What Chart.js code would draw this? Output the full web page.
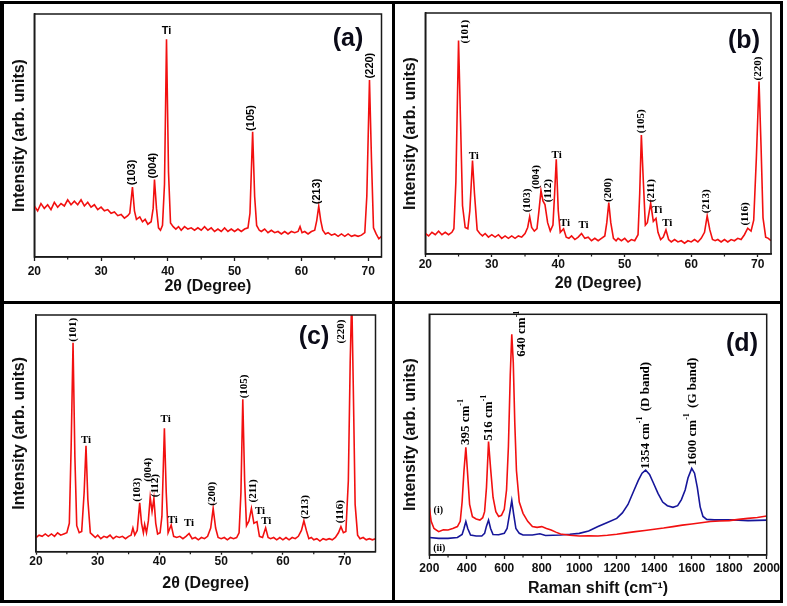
<!DOCTYPE html>
<html><head><meta charset="utf-8">
<script src="https://cdn.jsdelivr.net/npm/chart.js@4.4.1/dist/chart.umd.min.js"></script>
<style>
html,body{margin:0;padding:0;background:#fff;}
#wrap{position:relative;width:787px;height:606px;overflow:hidden;background:#fff;}
canvas{position:absolute;}
.bar{position:absolute;background:#000;z-index:5;}
.tag{position:absolute;font:bold 25px "Liberation Sans",Arial,sans-serif;color:#0b0b18;transform:translate(-50%,-50%);z-index:4;white-space:nowrap;}
</style></head><body>
<div id="wrap">
<canvas id="ca" width="389" height="297" style="left:3px;top:4px;width:389px;height:297px"></canvas>
<canvas id="cb" width="388" height="297" style="left:395px;top:4px;width:388px;height:297px"></canvas>
<canvas id="cc" width="389" height="296" style="left:3px;top:304px;width:389px;height:296px"></canvas>
<canvas id="cd" width="388" height="296" style="left:395px;top:304px;width:388px;height:296px"></canvas>
<div class="bar" style="left:0;top:1px;width:4px;height:602px"></div>
<div class="bar" style="left:0;top:1px;width:783px;height:3px"></div>
<div class="bar" style="left:780px;top:1px;width:3px;height:602px"></div>
<div class="bar" style="left:0;top:600px;width:783px;height:3px"></div>
<div class="bar" style="left:392px;top:1px;width:3px;height:602px"></div>
<div class="bar" style="left:0;top:301px;width:783px;height:3px"></div>
<div class="tag" style="left:348px;top:37px">(a)</div>
<div class="tag" style="left:744px;top:39px">(b)</div>
<div class="tag" style="left:314px;top:335px">(c)</div>
<div class="tag" style="left:742px;top:342px">(d)</div>
</div>
<script>
// ---------- DATA ----------
const xrdA = [[20,21],[20.5,19],[21,22],[21.5,20],[22,21.5],[22.5,19.5],[23,22.5],[23.5,20.5],[24,22],[24.5,21],[25,23.5],[25.5,21.5],[26,23],[26.5,21.5],[27,23.5],[27.5,21],[28,22.5],[28.5,20.5],[29,21.5],[29.5,19.5],[30,20.5],[30.5,19],[31,19.5],[31.5,18],[32,18.5],[32.5,17],[33,17.5],[33.5,16],[34,17],[34.3,18],[34.7,28.8],[35,19],[35.3,15.5],[35.8,16.5],[36.2,14.5],[36.6,15.5],[37,13.5],[37.5,14.5],[37.8,20],[38,31.9],[38.3,20],[38.6,12],[38.9,11],[39.2,13],[39.5,30],[39.8,89.6],[40.1,35],[40.4,14],[40.8,12.5],[41.2,11.5],[41.6,12.5],[42,11],[42.5,12.5],[43,11.5],[43.5,12],[44,11],[44.5,12],[45,11],[45.5,12.5],[46,11],[46.5,12],[47,10.5],[47.5,11.5],[48,10.5],[48.5,12],[49,10.5],[49.5,11.5],[50,10.5],[50.5,11.5],[51,10.5],[51.5,11.5],[52,12],[52.3,18],[52.7,51.5],[53,25],[53.3,13],[53.7,11],[54,10.5],[54.5,11.5],[55,10],[55.5,11],[56,10],[56.5,10.5],[57,9.5],[57.5,10.5],[58,9.5],[58.5,10.5],[59,10],[59.5,10.5],[59.8,12.5],[60.1,10],[60.5,10.5],[61,9.5],[61.5,10.5],[62,11],[62.3,15],[62.6,20.9],[62.9,15],[63.2,11],[63.6,9.5],[64,10],[64.5,9],[65,9.5],[65.5,8.5],[66,9.5],[66.5,8.5],[67,9.5],[67.5,8.5],[68,9],[68.5,8.5],[69,9],[69.5,10],[69.8,25],[70.2,72.8],[70.5,40],[70.8,12],[71.2,9.5],[71.6,7.5],[72,8.5]];

const xrdB = [[20,8.5],[20.5,7.5],[21,9],[21.5,8],[22,9.5],[22.5,8],[23,9],[23.5,8],[24,9],[24.3,10.5],[24.6,30],[25,88.6],[25.3,55],[25.6,20],[26,11],[26.4,10.5],[26.7,18],[27.1,38.8],[27.4,25],[27.8,10],[28.2,8.5],[28.6,7.5],[29,8.5],[29.5,7],[30,8],[30.5,7],[31,8],[31.5,6.5],[32,7.5],[32.5,6.5],[33,7.5],[33.5,6.5],[34,7.5],[34.5,7],[35,8.5],[35.4,11],[35.7,15.5],[36,11],[36.4,9.5],[36.8,10.5],[37.1,18],[37.4,26.3],[37.7,22],[38,20.5],[38.4,13],[38.8,9.5],[39.2,12],[39.45,25],[39.7,39.3],[40,18],[40.3,9],[40.8,10.5],[41.2,7],[41.6,6.5],[42,7.5],[42.5,6],[43,7],[43.5,8.5],[44,6.5],[44.5,7],[45,5.5],[45.5,6.5],[46,5.5],[46.5,6.5],[47,7.5],[47.3,13],[47.6,21.3],[47.9,13],[48.3,6.5],[48.7,5.5],[49,6.5],[49.5,5.5],[50,6.5],[50.5,5],[51,6],[51.5,5.5],[52,8],[52.25,25],[52.5,49.4],[52.8,30],[53.1,12],[53.4,13],[53.9,21],[54.3,13.5],[54.7,14.8],[55,9],[55.4,6],[55.8,7],[56.2,10],[56.6,6],[57,5],[57.5,6],[58,5],[58.5,5.5],[59,4.5],[59.5,5.5],[60,5],[60.5,6],[61,5],[61.5,6.5],[62,9],[62.4,15.8],[62.8,10],[63.2,6],[63.6,5.5],[64,6],[64.5,5],[65,6],[65.5,5],[66,6],[66.5,5.5],[67,6.5],[67.5,6],[68,8],[68.5,10.7],[69,9.5],[69.4,14],[69.8,40],[70.2,71.6],[70.5,45],[70.8,15],[71.2,7],[71.6,6.5],[72,5.5]];

const xrdC = [[20,6],[20.5,7],[21,6.5],[21.5,7.5],[22,6.5],[22.5,7.5],[23,6.5],[23.5,8],[24,7],[24.5,7.5],[25,8],[25.4,12],[25.7,45],[26,88.3],[26.3,40],[26.6,11],[27,8],[27.4,8.5],[27.8,25],[28.1,44.8],[28.4,22],[28.8,8],[29.2,7],[29.6,6],[30,7],[30.5,5.5],[31,6.5],[31.5,6],[32,7],[32.5,5.5],[33,6.5],[33.5,6],[34,6.5],[34.5,5.5],[35,6.5],[35.4,7],[35.7,10],[36,7],[36.4,9],[36.8,20.7],[37.1,12],[37.4,8],[37.6,11.5],[37.9,8],[38.2,13],[38.5,23],[38.8,17],[39.1,22.5],[39.4,12],[39.7,7.5],[40.1,8],[40.4,15],[40.8,52.1],[41.1,25],[41.4,8],[41.9,11.3],[42.3,6.5],[42.8,6],[43.3,6.5],[43.8,5.5],[44.3,6.5],[44.8,7.7],[45.3,5.5],[45.8,6],[46.3,5],[46.8,6],[47.3,5.5],[47.8,6.5],[48.3,10],[48.7,18.3],[49.1,10],[49.5,6],[50,5.5],[50.5,6],[51,5],[51.5,6],[52,5.5],[52.5,6],[52.9,8],[53.2,25],[53.5,64.4],[53.8,30],[54.1,11],[54.5,13],[54.9,18.3],[55.3,12],[55.8,12.7],[56.2,6.5],[56.7,6],[57.2,10.1],[57.6,6],[58,5.5],[58.5,6],[59,5],[59.5,6],[60,5],[60.5,6],[61,5],[61.5,6],[62,5.5],[62.5,6.5],[63,9],[63.4,13.1],[63.8,9],[64.2,5.5],[64.6,6],[65,5],[65.5,5.5],[66,4.5],[66.5,5.5],[67,5],[67.5,5.5],[68,5],[68.5,6],[69,8],[69.4,10.6],[69.8,8],[70.2,8.5],[70.6,30],[70.9,80],[71.15,108],[71.4,70],[71.7,20],[72.1,7],[72.5,5.5],[73,6],[73.5,5],[74,5.5],[74.5,5],[75,5.5]];

const ramanI = [[200,19.8],[210,14],[225,11],[250,9.7],[275,10.5],[300,10.4],[325,11],[350,11.8],[365,14],[375,22],[385,35],[395,44.7],[405,33],[415,21],[430,15.9],[450,15],[470,14.5],[485,15.5],[495,18],[505,28],[516,47.1],[527,36],[540,24],[555,18],[570,16],[585,16.5],[600,19],[612,27],[622,45],[632,75],[640,91.7],[648,80],[656,55],[665,35],[680,22],[700,17.3],[725,14],[750,11.8],[775,11.5],[800,11.8],[825,11],[850,10.4],[875,9.5],[900,8.7],[950,8.2],[1000,7.9],[1050,8],[1100,7.9],[1150,8.2],[1200,8.6],[1250,9.2],[1300,9.7],[1350,10.2],[1400,10.7],[1450,11.2],[1500,11.8],[1550,12.4],[1600,12.9],[1650,13.4],[1700,13.9],[1750,14.1],[1800,14.3],[1850,14.8],[1900,15.2],[1950,15.6],[2000,16.2]];

const ramanII = [[200,7.3],[250,6.9],[300,6.9],[350,7.3],[375,8.5],[385,11],[395,13.9],[405,11],[420,8.3],[450,7.9],[480,7.9],[495,9],[505,12],[516,14.5],[527,11],[540,8.5],[570,8.4],[600,9],[615,11],[628,17],[640,22.6],[650,17],[662,11],[680,9],[700,8.3],[750,8.3],[790,8.8],[820,8.1],[900,8.3],[950,8.6],[1000,9],[1050,10],[1100,11.8],[1150,13.5],[1200,15.2],[1230,17.5],[1260,21],[1290,26.5],[1315,31],[1335,34],[1354,35.3],[1375,33.5],[1395,30],[1420,25.6],[1445,22],[1470,20.5],[1500,19.8],[1525,20.5],[1545,23],[1565,27],[1580,32],[1600,36],[1615,34],[1630,28],[1645,20],[1660,16],[1680,14.8],[1720,14.6],[1800,14.6],[1850,14.5],[1900,14.3],[2000,14.5]];

// peak annotations: [x, y, text, kind]  kind: v = vertical, h = horizontal, c = centred
const labelsA = [[34.6,29.5,'(103)','v'],[37.7,32.3,'(004)','v'],[39.8,91.8,'Ti','h'],[52.5,51.9,'(105)','v'],[62.4,21.7,'(213)','v'],[70.25,73.5,'(220)','v']];
const labelsB = [[26.0,87.3,'(101)','v'],[27.3,39.3,'Ti','h'],[35.3,17.3,'(103)','v'],[36.7,27,'(004)','v'],[38.5,21.5,'(112)','v'],[39.75,39.8,'Ti','h'],[41.0,11.6,'Ti','h'],[43.8,10.7,'Ti','h'],[47.5,21.6,'(200)','v'],[52.5,50.1,'(105)','v'],[54.0,21.5,'(211)','v'],[54.9,16.9,'Ti','h'],[56.4,11.6,'Ti','h'],[62.3,16.9,'(213)','v'],[68.1,11.8,'(116)','v'],[70.1,72,'(220)','v']];
const labelsC = [[25.95,88.7,'(101)','v'],[28.1,46,'Ti','h'],[36.4,21.1,'(103)','v'],[38.1,29.6,'(004)','v'],[39.35,23,'(112)','v'],[41.0,54.6,'Ti','h'],[42.15,12.3,'Ti','h'],[44.8,11,'Ti','h'],[48.6,19.4,'(200)','v'],[53.7,64.8,'(105)','v'],[55.1,20.8,'(211)','v'],[56.3,15.9,'Ti','h'],[57.3,11.7,'Ti','h'],[63.6,13.8,'(213)','v'],[69.3,12,'(116)','v'],[69.4,88,'(220)','v']];
const labelsD = [[395.7,45.7,['395 cm','-1'],'v'],[516.6,47.5,['516 cm','-1'],'v'],[692.7,82.4,['640 cm','-1'],'v'],[1352.6,35.7,['1354 cm','-1',' (D band)'],'v'],[1603.4,37.1,['1600 cm','-1',' (G band)'],'v'],[248,18.6,'(i)','c'],[253,2.6,'(ii)','c']];

const xAxisXRD_AB = {min:20, max:72, step:10};
const xAxisXRD_C = {min:20, max:75, step:10};
const xAxisRaman = {min:200, max:2000, step:200};
const titleXRD = '2\u03B8 (Degree)';
const titleRaman = 'Raman shift (cm\u207B\u00B9)';
const titleY = 'Intensity (arb. units)';

// ---------- PLUGINS ----------
const peakLabels = {
  id:'peakLabels',
  afterDatasetsDraw(chart, args, opts){
    const {ctx, scales:{x, y}} = chart;
    ctx.save();
    ctx.fillStyle = '#000';
    for (const [vx, vy, text, kind] of opts.items){
      const px = x.getPixelForValue(vx), py = y.getPixelForValue(vy);
      const parts = Array.isArray(text) ? text : [text];
      ctx.save();
      ctx.translate(px, py);
      if (kind === 'v'){ ctx.rotate(-Math.PI/2); ctx.textAlign='left'; ctx.textBaseline='middle'; }
      else if (kind === 'h'){ ctx.textAlign='center'; ctx.textBaseline='alphabetic'; }
      else { ctx.textAlign='center'; ctx.textBaseline='middle'; }
      if (parts.length === 1){ ctx.font = kind==='h' ? (opts.hFont||opts.font) : (kind==='c' ? (opts.cFont||opts.font) : opts.font); ctx.fillText(parts[0], 0, 0); }
      else {
        let cx = 0;
        parts.forEach((p, i) => {
          const sup = i % 2 === 1;
          ctx.font = sup ? opts.supFont : opts.font;
          ctx.fillText(p, cx, sup ? -opts.supRise : 0);
          cx += ctx.measureText(p).width + (sup ? 2 : 0);
        });
      }
      ctx.restore();
    }
    ctx.restore();
  }
};
const frame = {
  id:'frame',
  afterDraw(chart, args, opts){
    const {ctx, chartArea:a} = chart;
    const xs = chart.scales.x;
    ctx.save();
    ctx.strokeStyle = '#1a1a1a';
    ctx.lineWidth = 1.5;
    ctx.strokeRect(a.left, a.top, a.right - a.left, a.bottom - a.top);
    ctx.lineWidth = 1.2;
    ctx.beginPath();
    const ticks = xs.ticks.map(t => t.value);
    for (let i = 0; i < ticks.length; i++){
      const v = ticks[i] + opts.minor;
      if (v < xs.max){
        const px = xs.getPixelForValue(v);
        ctx.moveTo(px, a.bottom); ctx.lineTo(px, a.bottom + 2.5);
      }
    }
    ctx.stroke();
    ctx.restore();
  }
};

Chart.defaults.font.family = '"Liberation Sans", Arial, sans-serif';
Chart.defaults.color = '#111';

function makeChart(id, p){
  const datasets = p.series.map(s => ({
    data: s.data.map(([x, y]) => ({x, y})),
    borderColor: s.color, borderWidth: 1.6, pointRadius: 0, tension: 0, fill: false
  }));
  return new Chart(document.getElementById(id), {
    type:'line',
    data:{datasets},
    plugins:[peakLabels, frame],
    options:{
      responsive:false, animation:false, events:[],
      layout:{padding:{top:p.pt, right:p.pr, left:0, bottom:0}},
      plugins:{
        legend:{display:false}, tooltip:{enabled:false},
        peakLabels:{items:p.labels, font:p.lFont, hFont:p.hFont, cFont:p.cFont, supFont:p.supFont, supRise:p.supRise||0},
        frame:{minor:p.axis.step/2}
      },
      scales:{
        x:{type:'linear', min:p.axis.min, max:p.axis.max,
          afterFit: s => { s.height = p.xh; },
          ticks:{stepSize:p.axis.step, includeBounds:false, autoSkip:false, maxRotation:0, padding:p.tp,
            font:{size:12, weight:'bold'}, color:'#111', callback: v => String(v)},
          grid:{display:true, drawOnChartArea:false, drawTicks:true, tickLength:p.tl, tickColor:'#1a1a1a', tickWidth:1.3},
          border:{display:true, color:'#1a1a1a', width:1.5},
          title:{display:true, text:p.xTitle, color:'#111', font:{size:16, weight:'bold'}, padding:{top:0, bottom:p.xtb}}
        },
        y:{type:'linear', min:0, max:100,
          afterFit: s => { s.width = p.yw; },
          ticks:{display:false},
          grid:{display:false},
          border:{display:true, color:'#1a1a1a', width:1.5},
          title:{display:true, text:titleY, color:'#111', font:{size:16, weight:'bold'}, padding:{top:p.ytp, bottom:0}}
        }
      }
    }
  });
}

const RED = '#f21010', BLUE = '#16169a';
const sansLbl = 'bold 11px "Liberation Sans", Arial, sans-serif';
const serifLbl = 'bold 11px "Liberation Serif", "Times New Roman", serif';

makeChart('ca', {series:[{data:xrdA, color:RED}], labels:labelsA, lFont:sansLbl, hFont:sansLbl,
  axis:xAxisXRD_AB, xTitle:titleXRD, pt:10, pr:10.5, yw:31.3, xh:44, tl:4, tp:3, xtb:4.4, ytp:7.4});
makeChart('cb', {series:[{data:xrdB, color:RED}], labels:labelsB, lFont:serifLbl, hFont:serifLbl,
  axis:xAxisXRD_AB, xTitle:titleXRD, pt:9, pr:12, yw:30.3, xh:47, tl:3, tp:0, xtb:7.4, ytp:6.4});
makeChart('cc', {series:[{data:xrdC, color:RED}], labels:labelsC, lFont:serifLbl, hFont:serifLbl,
  axis:xAxisXRD_C, xTitle:titleXRD, pt:11, pr:16.5, yw:33, xh:48.3, tl:3, tp:0, xtb:6.4, ytp:7.4});
makeChart('cd', {series:[{data:ramanI, color:RED},{data:ramanII, color:BLUE}], labels:labelsD,
  lFont:'bold 13px "Liberation Serif", "Times New Roman", serif',
  cFont:'bold 10px "Liberation Serif", "Times New Roman", serif',
  supFont:'bold 8px "Liberation Serif", "Times New Roman", serif', supRise:5,
  axis:xAxisRaman, xTitle:titleRaman, pt:10.3, pr:16.3, yw:34.3, xh:45, tl:4, tp:2, xtb:1.4, ytp:6.4});
</script>
</body></html>
